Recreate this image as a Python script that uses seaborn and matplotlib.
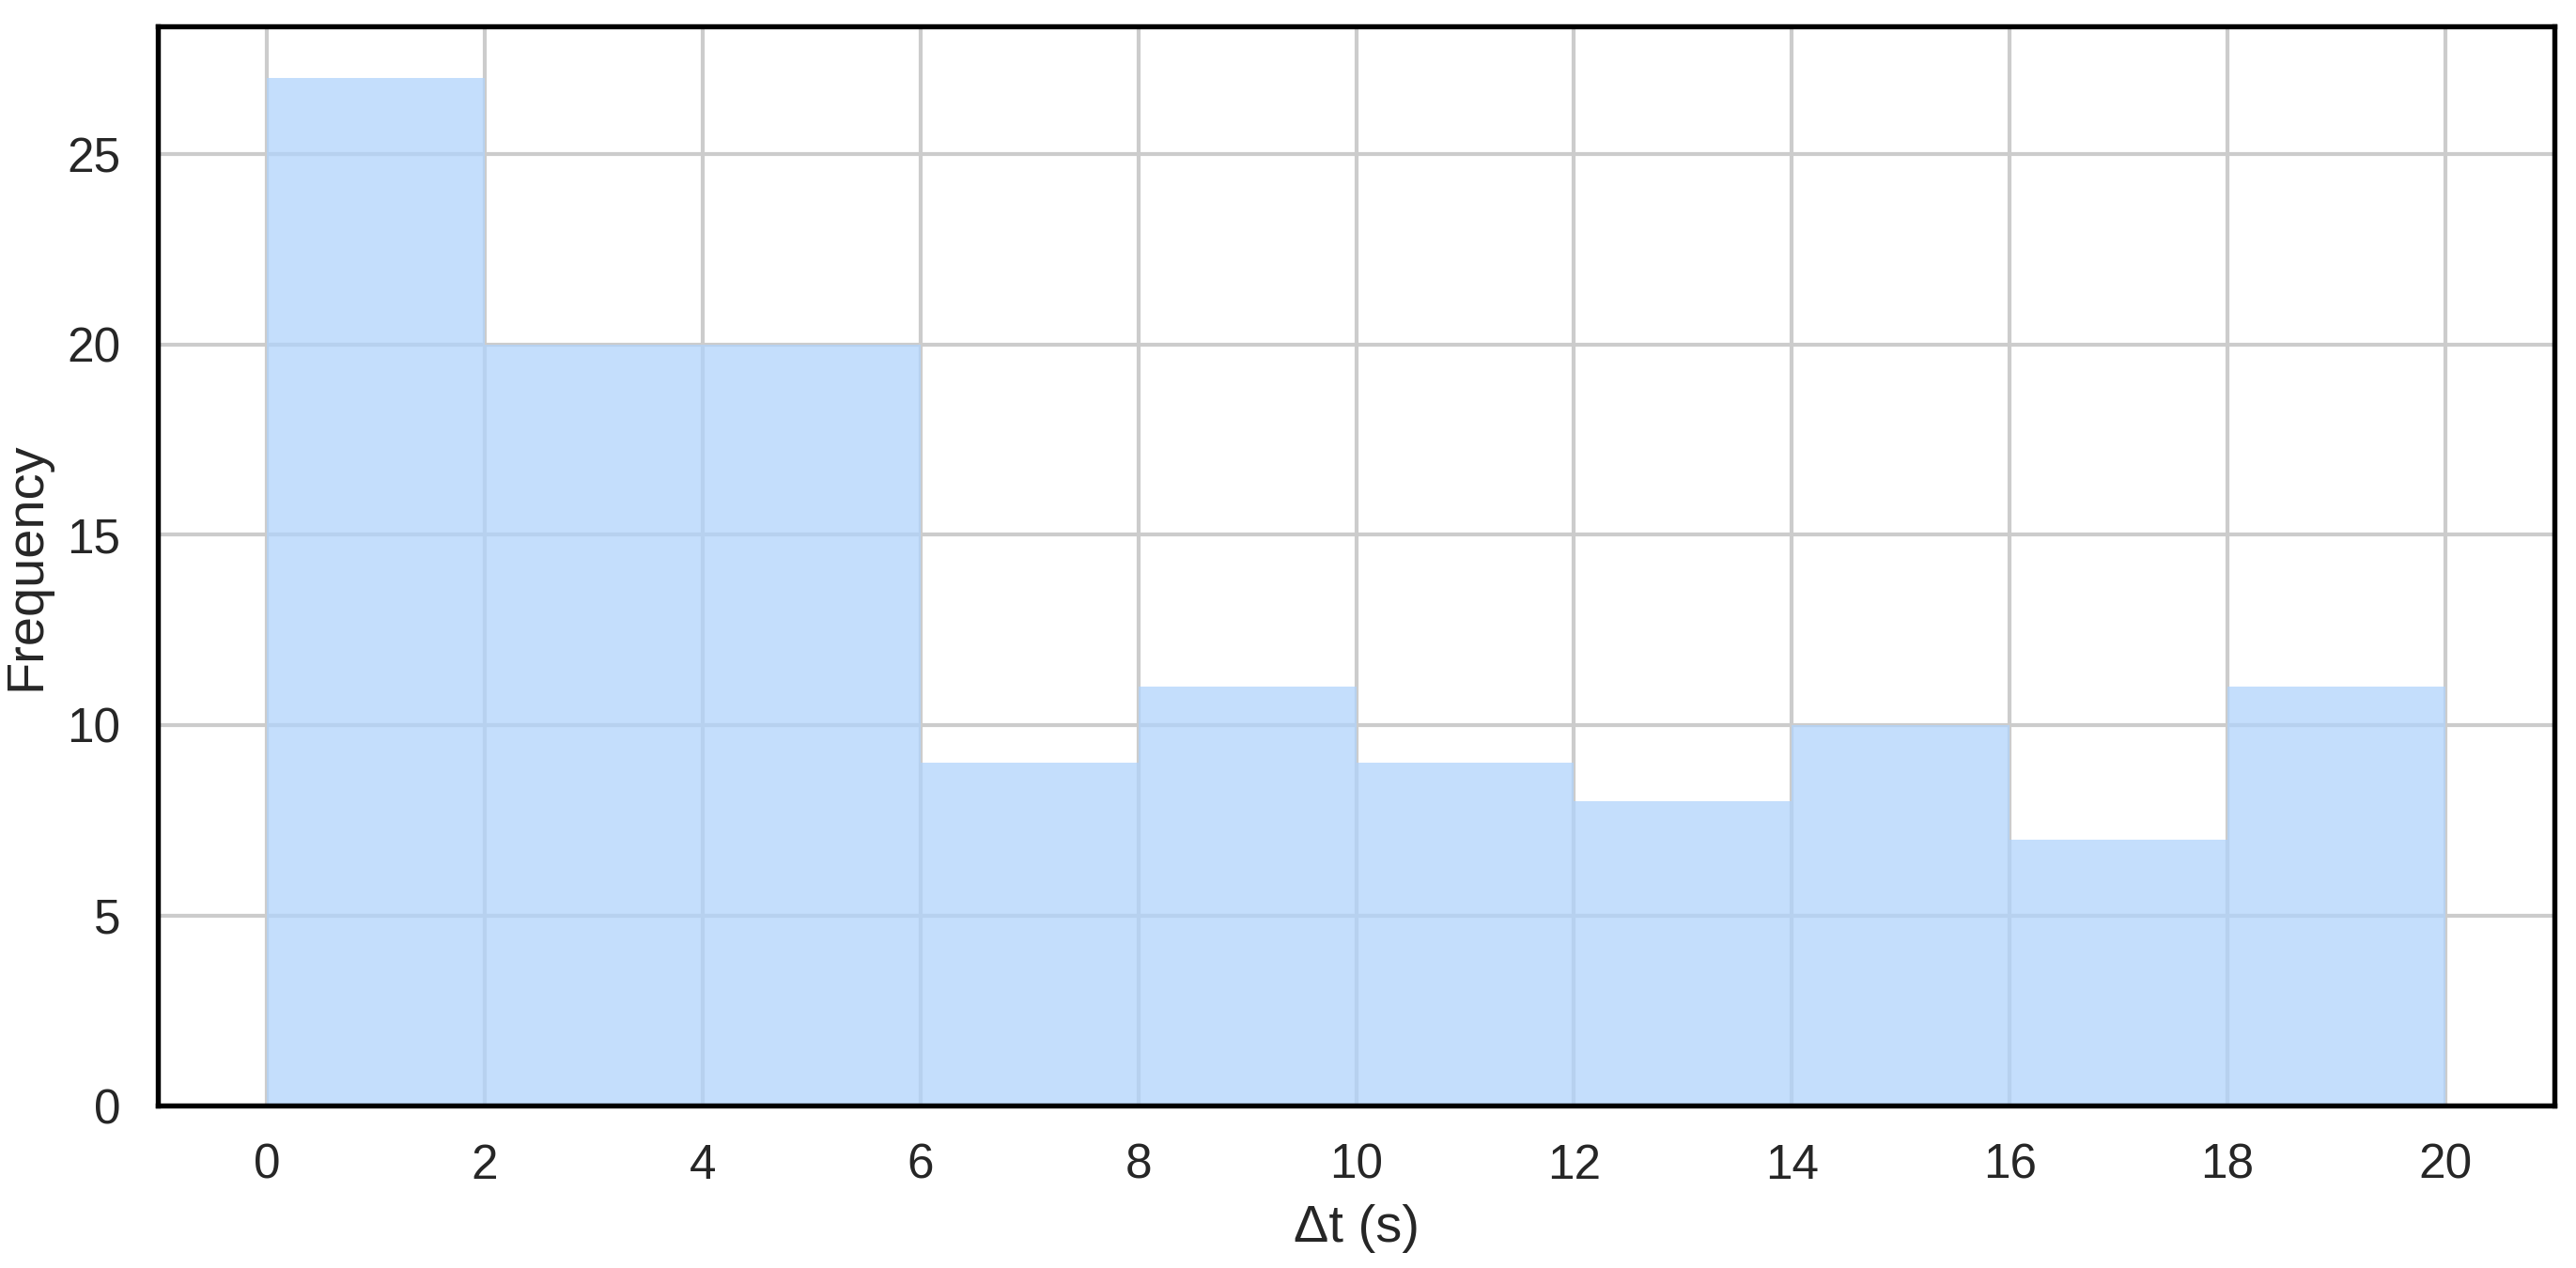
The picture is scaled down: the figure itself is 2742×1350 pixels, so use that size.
import numpy as np
import pandas as pd
import seaborn as sns
from matplotlib import pyplot as plt

# histogram bins (seconds) and counts
BIN_EDGES = [0, 2, 4, 6, 8, 10, 12, 14, 16, 18, 20]
COUNTS = [27, 20, 20, 9, 11, 9, 8, 10, 7, 11]
X_TICKS = [0, 2, 4, 6, 8, 10, 12, 14, 16, 18, 20]


def main():
    sns.set_theme(style='whitegrid', font_scale=1.12)
    plt.rcParams['font.family'] = ['Liberation Sans', 'DejaVu Sans']

    edges = np.array(BIN_EDGES, dtype=float)
    centers = (edges[:-1] + edges[1:]) / 2
    df = pd.DataFrame({'dt': centers, 'n': COUNTS})

    fig, ax = plt.subplots(figsize=(9.14, 4.5))
    sns.histplot(data=df, x='dt', weights='n', bins=BIN_EDGES, ax=ax,
                 color='#b0d3fb', alpha=0.75, edgecolor='none', linewidth=0)

    ax.set_xticks(X_TICKS)
    ax.set_xlabel('Δt (s)')
    ax.set_ylabel('Frequency')
    for side in ax.spines.values():
        side.set_edgecolor('black')
        side.set_linewidth(1.3)

    plt.subplots_adjust(left=0.0613, right=0.9916, top=0.979, bottom=0.128)
    plt.savefig('out.png', dpi=300)
    plt.close()


if __name__ == '__main__':
    main()
